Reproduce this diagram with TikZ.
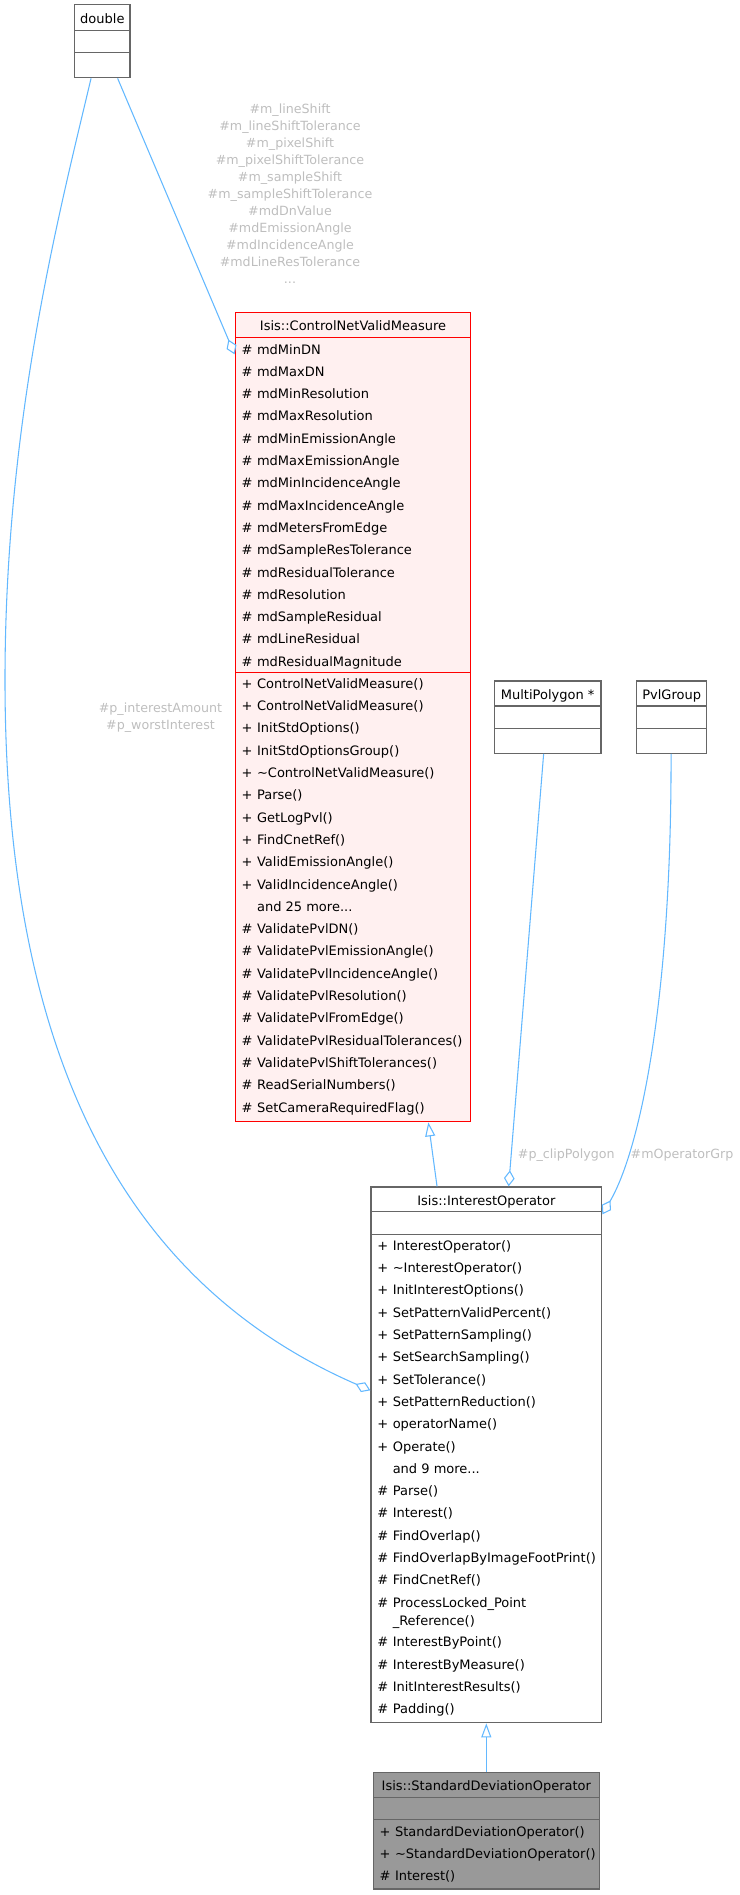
\documentclass[tikz,border=0pt]{standalone}
\usepackage{fontspec}
\setmainfont{DejaVu Sans}
\usetikzlibrary{arrows.meta,calc,fit}
\definecolor{edgeblue}{HTML}{63B8FF}
\definecolor{boxgray}{HTML}{666666}
\definecolor{lblgray}{HTML}{BEBEBE}
\definecolor{cnvmfill}{HTML}{FFF0F0}
\definecolor{sdofill}{HTML}{999999}
\newcommand\threedots{...}
\begin{document}
\begin{tikzpicture}[x=0.75pt,y=-0.75pt,
  umlbox/.style={draw=boxgray, line width=1pt, fill=white, inner sep=0pt},
  hlbox/.style={draw=red, line width=1pt, fill=cnvmfill, inner sep=0pt},
  sdobox/.style={draw=boxgray, line width=1pt, fill=sdofill, inner sep=0pt},
  sepline/.style={draw=boxgray, line width=1pt},
  redline/.style={draw=red, line width=1pt},
  txt/.style={font=\fontsize{9.75}{11}\selectfont, inner sep=0pt, anchor=base west},
  hdr/.style={font=\fontsize{9.75}{11}\selectfont, inner sep=0pt, anchor=base},
  lbl/.style={font=\fontsize{9.5}{12.75}\selectfont, text=lblgray, inner sep=0pt, align=center},
  assoc/.style={draw=edgeblue, line width=0.8pt, -{Diamond[open,length=12pt,width=8pt]}},
  inherit/.style={draw=edgeblue, line width=0.8pt, -{Triangle[open,length=10.5pt,width=7.5pt]}},
]
\useasboundingbox (0,0) rectangle (739,1895);

% ---------- boxes ----------
\node[umlbox, fit={(74.7,4.7) (130,77.7)}] (double) {};
\draw[sepline] (74.7,30.3) -- (130,30.3);
\draw[sepline] (74.7,52.3) -- (130,52.3);
\node[hdr] (doubleT) at (102.35,23.3) {double};

\node[hlbox, fit={(235.3,312.7) (470.7,1121.7)}] (cnvm) {};
\draw[redline] (235.3,337.7) -- (470.7,337.7);
\draw[redline] (235.3,672.7) -- (470.7,672.7);
\node[hdr] (cnvmT) at (353,330.7) {Isis::ControlNetValidMeasure};
\foreach \tx [count=\i from 0] in {mdMinDN,mdMaxDN,mdMinResolution,mdMaxResolution,mdMinEmissionAngle,mdMaxEmissionAngle,mdMinIncidenceAngle,mdMaxIncidenceAngle,mdMetersFromEdge,mdSampleResTolerance,mdResidualTolerance,mdResolution,mdSampleResidual,mdLineResidual,mdResidualMagnitude}{
  \node[txt] (cnvmAs\i) at (241.3,354+22.3*\i) {\#};
  \node[txt] (cnvmAn\i) at (256.8,354+22.3*\i) {\tx};
}
\foreach \sy/\tx [count=\i from 0] in {+/ControlNetValidMeasure(),+/ControlNetValidMeasure(),+/InitStdOptions(),+/InitStdOptionsGroup(),+/\textasciitilde ControlNetValidMeasure(),+/Parse(),+/GetLogPvl(),+/FindCnetRef(),+/ValidEmissionAngle(),+/ValidIncidenceAngle(),{}/and 25 more\threedots,\#/ValidatePvlDN(),\#/ValidatePvlEmissionAngle(),\#/ValidatePvlIncidenceAngle(),\#/ValidatePvlResolution(),\#/ValidatePvlFromEdge(),\#/ValidatePvlResidualTolerances(),\#/ValidatePvlShiftTolerances(),\#/ReadSerialNumbers(),\#/SetCameraRequiredFlag()}{
  \node[txt] (cnvmMs\i) at (241.3,688.3+22.3*\i) {\sy};
  \node[txt] (cnvmMn\i) at (256.8,688.3+22.3*\i) {\tx};
}

\node[umlbox, fit={(494.3,681) (601,753.3)}] (mpoly) {};
\draw[sepline] (494.3,706) -- (601,706);
\draw[sepline] (494.3,728.3) -- (601,728.3);
\node[hdr] (mpolyT) at (547.65,699.3) {MultiPolygon *};

\node[umlbox, fit={(636.7,681) (706.7,753.3)}] (pvl) {};
\draw[sepline] (636.7,706) -- (706.7,706);
\draw[sepline] (636.7,728.3) -- (706.7,728.3);
\node[hdr] (pvlT) at (671.7,699.3) {PvlGroup};

\node[umlbox, fit={(371,1187) (601.7,1722.7)}] (io) {};
\draw[sepline] (371,1211.7) -- (601.7,1211.7);
\draw[sepline] (371,1234.3) -- (601.7,1234.3);
\node[hdr] (ioT) at (486.35,1205.7) {Isis::InterestOperator};
\foreach \sy/\tx [count=\i from 0] in {+/InterestOperator(),+/\textasciitilde InterestOperator(),+/InitInterestOptions(),+/SetPatternValidPercent(),+/SetPatternSampling(),+/SetSearchSampling(),+/SetTolerance(),+/SetPatternReduction(),+/operatorName(),+/Operate(),{}/and 9 more\threedots,\#/Parse(),\#/Interest(),\#/FindOverlap(),\#/FindOverlapByImageFootPrint(),\#/FindCnetRef(),\#/ProcessLocked\_Point}{
  \node[txt] (ioMs\i) at (377,1250.3+22.3*\i) {\sy};
  \node[txt] (ioMn\i) at (392.5,1250.3+22.3*\i) {\tx};
}
\node[txt] (ioRef) at (392.5,1625) {\_Reference()};
\foreach \tx [count=\i from 0] in {InterestByPoint(),InterestByMeasure(),InitInterestResults(),Padding()}{
  \node[txt] (ioBs\i) at (377,1646.7+22.3*\i) {\#};
  \node[txt] (ioBn\i) at (392.5,1646.7+22.3*\i) {\tx};
}

\node[sdobox, fit={(373.3,1772.3) (599.3,1889)}] (sdo) {};
\draw[sepline] (373.3,1797.3) -- (599.3,1797.3);
\draw[sepline] (373.3,1819.3) -- (599.3,1819.3);
\node[hdr] (sdoT) at (486.3,1790.7) {Isis::StandardDeviationOperator};
\foreach \sy/\tx [count=\i from 0] in {+/StandardDeviationOperator(),+/\textasciitilde StandardDeviationOperator(),\#/Interest()}{
  \node[txt] (sdoMs\i) at (379.3,1836+22.3*\i) {\sy};
  \node[txt] (sdoMn\i) at (394.8,1836+22.3*\i) {\tx};
}

% ---------- connectors ----------
\draw[assoc] ($(double.south west)+(43.6,0)$) -- ($(cnvm.north west)+(0,42.3)$);
\draw[assoc] ($(double.south west)+(17,0)$) .. controls (60,210) and (5,420) .. (5,680)
   .. controls (5,1080) and (140,1290) .. ($(io.north west)+(0,204)$);
\draw[inherit] ($(io.north west)+(66.7,0)$) -- ($(cnvm.south west)+(193.7,0)$);
\draw[assoc] ($(mpoly.south west)+(50,0)$) -- ($(io.north west)+(138.3,0)$);
\draw[assoc] ($(pvl.south west)+(35,0)$) .. controls (671.7,1000) and (640,1150) .. ($(io.north east)+(0,28)$);
\draw[inherit] (sdo.north) -- (sdo.north |- io.south);

% ---------- labels ----------
\node[lbl, anchor=north] (lblA) at (290,104) {\#m\_lineShift\\\#m\_lineShiftTolerance\\\#m\_pixelShift\\\#m\_pixelShiftTolerance\\\#m\_sampleShift\\\#m\_sampleShiftTolerance\\\#mdDnValue\\\#mdEmissionAngle\\\#mdIncidenceAngle\\\#mdLineResTolerance\\...};
\node[lbl, anchor=north] (lblB) at (160.5,703) {\#p\_interestAmount\\\#p\_worstInterest};
\node[lbl] (lblC) at (566.3,1155) {\#p\_clipPolygon};
\node[lbl] (lblD) at (682,1155) {\#mOperatorGrp};
\end{tikzpicture}
\end{document}
